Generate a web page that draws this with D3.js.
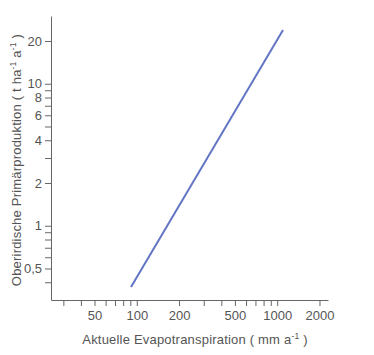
<!DOCTYPE html>
<html><head><meta charset="utf-8">
<script src="https://cdn.jsdelivr.net/npm/d3@7"></script>
<style>body{margin:0;background:#fff}svg text{font-family:"Liberation Sans",Arial,sans-serif;fill:#555}</style>
</head><body><svg id="c" width="374" height="355"></svg>
<script>
const evapo = [91, 1100];
const production = [0.37, 23.9];
const xTicks = [30,40,50,60,70,80,90,100,200,300,400,500,600,700,800,900,1000,2000];
const xLabels = [50,100,200,500,1000,2000];
const yTicks = [0.4,0.5,0.6,0.7,0.8,0.9,1,2,3,4,5,6,7,8,9,10,20];
const yLabels = [0.5,1,2,4,6,8,10,20];

const svg = d3.select("#c");
const x = d3.scaleLog().domain([24.5, 2300]).range([51, 328]);
const y = d3.scaleLog().domain([0.3, 30]).range([300, 16]);
const axisColor = "#666";
const fmt = v => String(v).replace(".", ",");

const xa = svg.append("g").attr("transform","translate(0,300)")
  .call(d3.axisBottom(x).tickValues(xTicks).tickSize(6).tickSizeOuter(0)
    .tickFormat(v => xLabels.includes(v) ? fmt(v) : ""));
const ya = svg.append("g").attr("transform","translate(51,0)")
  .call(d3.axisLeft(y).tickValues(yTicks).tickSize(6).tickSizeOuter(0)
    .tickFormat(v => yLabels.includes(v) ? fmt(v) : ""));
[xa, ya].forEach(a => {
  a.selectAll("path,line").attr("stroke", axisColor).attr("stroke-width", 1);
  a.selectAll("text").attr("font-size", 13).style("fill","#555")
    .attr("font-family", '"Liberation Sans",Arial,sans-serif');
});
xa.selectAll("text").attr("dy", "0.85em");

svg.append("path")
  .datum(evapo.map((e,i) => [e, production[i]]))
  .attr("d", d3.line().x(d => x(d[0])).y(d => y(d[1])))
  .attr("stroke", "#6275c4").attr("stroke-width", 2).attr("fill", "none");

const xl = svg.append("text").attr("x", 195).attr("y", 344).attr("text-anchor","middle").attr("font-size", 13).attr("letter-spacing", 0.2);
xl.append("tspan").text("Aktuelle Evapotranspiration ( mm a");
xl.append("tspan").text("-1").attr("font-size", 8.5).attr("baseline-shift","super");
xl.append("tspan").text(" )");

const yl = svg.append("text").attr("transform","translate(21,160) rotate(-90)").attr("text-anchor","middle").attr("font-size", 13).attr("letter-spacing", 0.2);
yl.append("tspan").text("Oberirdische Primärproduktion ( t ha");
yl.append("tspan").text("-1").attr("font-size", 8.5).attr("baseline-shift","super");
yl.append("tspan").text(" a");
yl.append("tspan").text("-1").attr("font-size", 8.5).attr("baseline-shift","super");
yl.append("tspan").text(" )");
</script></body></html>
